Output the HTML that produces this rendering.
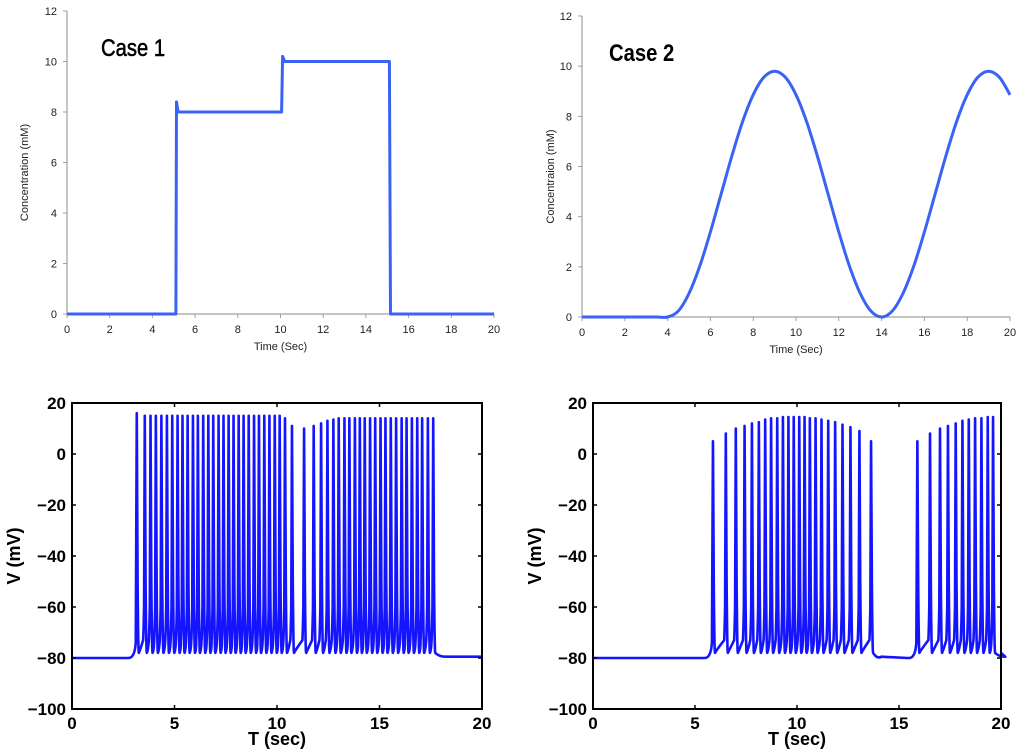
<!DOCTYPE html>
<html><head><meta charset="utf-8">
<style>
html,body{margin:0;padding:0;background:#fff;width:1024px;height:753px;overflow:hidden}
svg{display:block}
</style></head>
<body>
<svg id="fig" width="1024" height="753" xmlns="http://www.w3.org/2000/svg"></svg>
<script>
// ---- data ----
const xTicksTop = [0,2,4,6,8,10,12,14,16,18,20];
const yTicksTop = [0,2,4,6,8,10,12];
const case1T = [0,5.1,5.13,5.2,10.05,10.1,10.2,15.1,15.15,20];
const case1V = [0,0,8.4,8,8,10.2,10,10,0,0];
const case2T = [0,1,2,3,3.5,4,4.5,5,5.5,6,6.5,7,7.5,8,8.5,9,9.5,10,10.5,11,11.5,12,12.5,13,13.5,14,14.5,15,15.5,16,16.5,17,17.5,18,18.5,19,19.5,20];
const case2V = [0,0,0,0,0,0,0.24,0.94,2.02,3.39,4.9,6.41,7.78,8.86,9.56,9.8,9.56,8.86,7.78,6.41,4.9,3.39,2.02,0.94,0.24,0,0.24,0.94,2.02,3.39,4.9,6.41,7.78,8.86,9.56,9.8,9.56,8.86];
const xTicksBot = [0,5,10,15,20];
const yTicksBot = [20,0,-20,-40,-60,-80,-100];
const spikes1T = [3.16,3.55,3.83,4.09,4.36,4.63,4.89,5.15,5.39,5.64,5.90,6.14,6.40,6.65,6.89,7.15,7.39,7.64,7.88,8.13,8.37,8.62,8.88,9.12,9.38,9.63,9.89,10.13,10.39,10.73,
 11.32,11.79,12.15,12.46,12.75,13.01,13.29,13.53,13.80,14.04,14.28,14.54,14.79,15.05,15.29,15.55,15.81,16.08,16.32,16.58,16.84,17.08,17.36,17.62];
const spikes1P = [16,15,15,15,15,15,15,15,15,15,15,15,15,15,15,15,15,15,15,15,15,15,15,15,15,15,15,15,14,11,
 10,11,12,13,13.5,14,14,14,14,14,14,14,14,14,14,14,14,14,14,14,14,14,14,14];
const spikes2T = [5.88,6.51,7.00,7.43,7.79,8.13,8.44,8.73,9.03,9.31,9.58,9.84,10.11,10.37,10.63,10.91,11.20,11.53,11.87,12.23,12.62,13.06,13.63,
 15.90,16.52,17.01,17.40,17.78,18.11,18.42,18.73,19.04,19.35,19.61];
const spikes2P = [5,8,10,11,12,12.5,13.5,14,14,14.5,14.5,14.5,14.5,14.5,14,14,13.5,13,12.5,11.5,10.5,9,5,
 5,8,10,11,12,13,13.5,14,14,14.5,14.5];

const NS='http://www.w3.org/2000/svg';
const svg=document.getElementById('fig');
function mk(tag,attrs,parent){const e=document.createElementNS(NS,tag);for(const k in attrs)e.setAttribute(k,attrs[k]);(parent||svg).appendChild(e);return e;}
function txt(s,attrs,parent){const e=mk('text',attrs,parent);e.textContent=s;return e;}
function smoothPath(P){
  let d=`M${P[0][0]},${P[0][1]}`;
  for(let i=0;i<P.length-1;i++){
    const p0=P[i-1]||P[i],p1=P[i],p2=P[i+1],p3=P[i+2]||p2;
    const c1=[p1[0]+(p2[0]-p0[0])/6,p1[1]+(p2[1]-p0[1])/6];
    const c2=[p2[0]-(p3[0]-p1[0])/6,p2[1]-(p3[1]-p1[1])/6];
    d+=` C${c1[0].toFixed(1)},${c1[1].toFixed(1)} ${c2[0].toFixed(1)},${c2[1].toFixed(1)} ${p2[0].toFixed(1)},${p2[1].toFixed(1)}`;
  }
  return d;
}

// ---- top panels ----
function topPanel(id,x0,x1,y0,y1,T,V,title,ylabel,tx,ty,labelY,smooth,bold){
  const g=mk('g',{});
  
  
  const sx=t=>x0+(t/20)*(x1-x0), sy=v=>y0-(v/12)*(y0-y1);
  const ax=mk('line',{x1:x0,y1:y0,x2:x0,y2:y1,stroke:'#a0a0a0','stroke-width':1.2},g);
  
  const bx=mk('line',{x1:x0,y1:y0,x2:x1,y2:y0,stroke:'#a0a0a0','stroke-width':1.2},g);
  
  yTicksTop.forEach(v=>{
    mk('line',{x1:x0-4,y1:sy(v),x2:x0,y2:sy(v),stroke:'#a0a0a0'},g);
    const t=txt(v,{x:x0-10,y:sy(v)+4,'font-size':11,'text-anchor':'end','font-family':'Liberation Sans, sans-serif',fill:'#222'},g);
    
  });
  xTicksTop.forEach(v=>{
    mk('line',{x1:sx(v),y1:y0,x2:sx(v),y2:y0+4,stroke:'#a0a0a0'},g);
    const t=txt(v,{x:sx(v),y:y0+19,'font-size':11,'text-anchor':'middle','font-family':'Liberation Sans, sans-serif',fill:'#222'},g);
    
  });
  let p;
  if(smooth){
    const P=T.map((t,i)=>[sx(t),sy(V[i])]);
    p=mk('path',{d:smoothPath(P),fill:'none',stroke:'#3a63f5','stroke-width':3},g);
  } else {
    const pts=T.map((t,i)=>sx(t).toFixed(1)+','+sy(V[i]).toFixed(1)).join(' ');
    p=mk('polyline',{points:pts,fill:'none',stroke:'#3a63f5','stroke-width':3,'stroke-linejoin':'round'},g);
  }
  
  const tt=txt(title,{x:tx,y:ty,'font-size':22,'font-weight':bold?'bold':'normal','font-family':'Liberation Sans Narrow, Liberation Sans, sans-serif',fill:'#000',stroke:bold?'none':'#000','stroke-width':bold?0:0.5,transform:`translate(${tx},0) scale(0.92,1.1) translate(${-tx},${-ty*0.091})`},g);
  
  const xl=txt('Time (Sec)',{x:(x0+x1)/2,y:y0+36,'font-size':11,'text-anchor':'middle','font-family':'Liberation Sans, sans-serif',fill:'#222'},g);
  
  const yl=txt(ylabel,{x:0,y:0,'font-size':11,'text-anchor':'middle','font-family':'Liberation Sans, sans-serif',fill:'#222',transform:`translate(${labelY},${(y0+y1)/2+10}) rotate(-90)`},g);
  
}
topPanel('case1-concentration-chart',67,494,314,11,case1T,case1V,'Case 1','Concentration (mM)',101,56,28,false,false);
topPanel('case2-concentration-chart',582,1010,317,16,case2T,case2V,'Case 2','Concentraion (mM)',609,61,554,true,true);

// ---- bottom panels ----
function botPanel(id,x0,x1,yTop,yBot,ST,SP,tail){
  const g=mk('g',{});
  
  
  const sx=t=>x0+(t/20)*(x1-x0), sy=v=>yTop+(20-v)/120*(yBot-yTop);
  let d=`M${sx(0)},${sy(-80)}`;
  for(let i=0;i<ST.length;i++){
    const t=ST[i];
    const gap = i>0 ? t-ST[i-1] : 1;
    if(i===0 || gap>0.8){
      d+=` L${sx(t-0.4)},${sy(-80)} Q${sx(t-0.1)},${sy(-80)} ${sx(t-0.05)},${sy(-74)}`;
    } else {
      d+=` Q${sx(t-0.06)},${sy(-70)} ${sx(t-0.035)},${sy(-60)}`;
    }
    d+=` L${sx(t)},${sy(SP[i])} L${sx(t+0.04)},${sy(-50)} Q${sx(t+0.07)},${sy(-78)} ${sx(t+0.1)},${sy(-78)}`;
    const next=ST[i+1];
    if(next!==undefined && next-t<=0.8){
      d+=` Q${sx(t+0.16)},${sy(-77)} ${sx(next-0.08)},${sy(-73)}`;
    } else if(next!==undefined){
      d+=` Q${sx(t+0.3)},${sy(-80.5)} ${sx(t+0.5)},${sy(-79.5)} L${sx(next-0.5)},${sy(-80)}`;
    } else {
      d+=` Q${sx(t+0.3)},${sy(-79.5)} ${sx(t+0.6)},${sy(-79.5)} L${sx(20)},${sy(tail)}`;
    }
  }
  const p=mk('path',{d:d,fill:'none',stroke:'#1414ff','stroke-width':2.6,'stroke-linejoin':'round'},g);
  
  const box=mk('rect',{x:x0,y:yTop,width:x1-x0,height:yBot-yTop,fill:'none',stroke:'#000','stroke-width':2},g);
  
  yTicksBot.forEach(v=>{
    mk('line',{x1:x0,y1:sy(v),x2:x0+4,y2:sy(v),stroke:'#000','stroke-width':1.5},g);
    mk('line',{x1:x1-4,y1:sy(v),x2:x1,y2:sy(v),stroke:'#000','stroke-width':1.5},g);
    const t=txt(v<0?'\u2212'+(-v):v,{x:x0-6,y:sy(v)+6,'font-size':17,'font-weight':'bold','text-anchor':'end','font-family':'Liberation Sans, sans-serif',fill:'#000'},g);
    
  });
  xTicksBot.forEach(v=>{
    mk('line',{x1:sx(v),y1:yBot,x2:sx(v),y2:yBot-4,stroke:'#000','stroke-width':1.5},g);
    mk('line',{x1:sx(v),y1:yTop,x2:sx(v),y2:yTop+4,stroke:'#000','stroke-width':1.5},g);
    const t=txt(v,{x:sx(v),y:yBot+20,'font-size':17,'font-weight':'bold','text-anchor':'middle','font-family':'Liberation Sans, sans-serif',fill:'#000'},g);
    
  });
  const xl=txt('T (sec)',{x:(x0+x1)/2,y:yBot+36,'font-size':18,'font-weight':'bold','text-anchor':'middle','font-family':'Liberation Sans, sans-serif',fill:'#000'},g);
  
  const yl=txt('V (mV)',{x:0,y:0,'font-size':18,'font-weight':'bold','text-anchor':'middle','font-family':'Liberation Sans, sans-serif',fill:'#000',transform:`translate(${x0-52},${(yTop+yBot)/2}) rotate(-90)`},g);
  
}
botPanel('case1-voltage-chart',72,482,403,709,spikes1T,spikes1P,-79.5);
botPanel('case2-voltage-chart',593,1001,403,709,spikes2T,spikes2P,-78);
</script>
</body></html>
